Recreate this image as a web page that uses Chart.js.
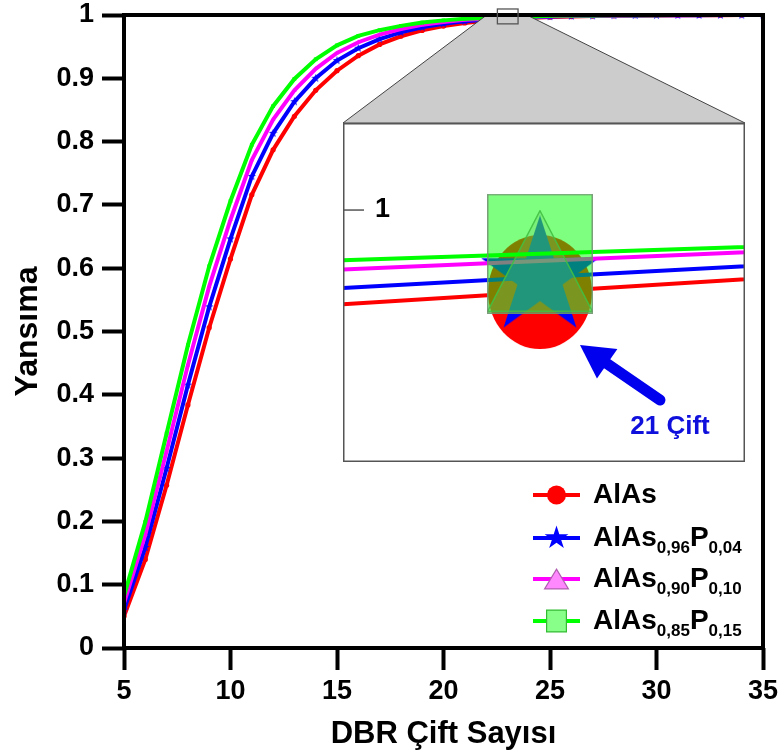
<!DOCTYPE html>
<html><head><meta charset="utf-8">
<script src="https://cdn.jsdelivr.net/npm/chart.js@4.4.1/dist/chart.umd.min.js"></script>
<style>
html,body{margin:0;padding:0;background:#fff;}
#wrap{position:relative;width:780px;height:756px;overflow:hidden;}
#main{position:absolute;left:0;top:0;}
#inset{position:absolute;left:343px;top:123px;background:#fff;}
</style></head><body>
<div id="wrap"><canvas id="main" width="780" height="756"></canvas><canvas id="inset" width="402" height="339"></canvas></div>
<script>
// ---------------- data ----------------
const pairs = [5,6,7,8,9,10,11,12,13,14,15,16,17,18,19,20,21,22,23,24,25,26,27,28,29,30,31,32,33,34,35];
const alas    = [0.0500,0.1399,0.2571,0.3840,0.5060,0.6146,0.7160,0.7870,0.8400,0.8810,0.9120,0.9358,0.9535,0.9664,0.9757,0.9825,0.9874,0.99091,0.99303,0.99516,0.99664,0.99758,0.99827,0.99875,0.99911,0.99936,0.99954,0.99967,0.99976,0.99983,0.99988];
const alasP04 = [0.0600,0.1588,0.2838,0.4153,0.5390,0.6463,0.7450,0.8130,0.8630,0.9000,0.9280,0.9475,0.9620,0.9726,0.9805,0.9861,0.9902,0.99244,0.99428,0.99612,0.99750,0.99823,0.99874,0.99911,0.99937,0.99955,0.99968,0.99977,0.99984,0.99989,0.99992];
const alasP10 = [0.0710,0.1790,0.3111,0.4469,0.5712,0.6766,0.7710,0.8350,0.8810,0.9150,0.9400,0.9570,0.9690,0.9778,0.9844,0.9891,0.9923,0.99420,0.99567,0.99714,0.99815,0.99870,0.99910,0.99936,0.99956,0.99969,0.99978,0.99985,0.99989,0.99993,0.99995];
const alasP15 = [0.0820,0.1992,0.3389,0.4783,0.6030,0.7061,0.7950,0.8560,0.8990,0.9300,0.9520,0.9670,0.9760,0.9828,0.9880,0.9915,0.9942,0.99516,0.99629,0.99742,0.99867,0.99908,0.99937,0.99956,0.99970,0.99979,0.99986,0.99990,0.99993,0.99995,0.99997];
const seriesNames = ['AlAs','AlAs_{0,96}P_{0,04}','AlAs_{0,90}P_{0,10}','AlAs_{0,85}P_{0,15}'];
const xTicks = [5,10,15,20,25,30,35];
const yTicks = [0,0.1,0.2,0.3,0.4,0.5,0.6,0.7,0.8,0.9,1];
const yTickLabels = ['0','0.1','0.2','0.3','0.4','0.5','0.6','0.7','0.8','0.9','1'];
const xTitle = 'DBR Çift Sayısı';
const yTitle = 'Yansıma';
// inset (zoom) window
const insetPair = 23;
const insetXRange = [22.51, 23.51];
const insetYRange = [0.97858, 1.0074];
const insetTickValue = 1;
const insetTickLabel = '1';
const insetNote = '21 Çift';
const zoomBoxX = [22.53, 23.5];
const zoomBoxY = [0.986, 1.0095];
const zoomFunnelX = [22.03, 23.91];

// ---------------- styles ----------------
const FONT = "'Liberation Sans', Arial, Helvetica, sans-serif";
const series = [alas, alasP04, alasP10, alasP15];
const colors = ['#ff0000', '#0000ff', '#ff00ff', '#00ff00'];

function pathShape(g, shape, cx, cy, w, h, lw) {
  const m = (lw || 0) / 2;
  g.beginPath();
  if (shape === 'circle') {
    g.ellipse(cx, cy, w / 2 - m, h / 2 - m, 0, 0, Math.PI * 2);
  } else if (shape === 'square') {
    g.rect(cx - w / 2 + m, cy - h / 2 + m, w - 2 * m, h - 2 * m);
  } else if (shape === 'triangle') {
    g.moveTo(cx, cy - h / 2 + m);
    g.lineTo(cx + w / 2 - m, cy + h / 2 - m);
    g.lineTo(cx - w / 2 + m, cy + h / 2 - m);
    g.closePath();
  } else if (shape === 'star') {
    const R = Math.min(w, h) / 2 - m, r = R * 0.382;
    for (let k = 0; k < 10; k++) {
      const a = -Math.PI / 2 + k * Math.PI / 5;
      const rr = k % 2 ? r : R;
      const px = cx + rr * Math.cos(a), py = cy + rr * Math.sin(a);
      if (k) g.lineTo(px, py); else g.moveTo(px, py);
    }
    g.closePath();
  }
}
function shapeCanvas(shape, w, h, fill, stroke, lw) {
  const c = document.createElement('canvas');
  c.width = w; c.height = h;
  const g = c.getContext('2d');
  pathShape(g, shape, w / 2, h / 2, w, h, lw);
  g.fillStyle = fill; g.fill();
  if (lw) { g.strokeStyle = stroke; g.lineWidth = lw; g.stroke(); }
  return c;
}
const mainStyles = ['circle', shapeCanvas('star', 9, 9, '#0000ff'), 'triangle', 'rect'];
const insetStyles = [
  shapeCanvas('circle', 104, 114, '#ff0000'),
  shapeCanvas('star', 124, 124, '#0000ff'),
  shapeCanvas('triangle', 106, 102, 'rgba(220,150,220,0.30)', 'rgba(130,130,130,0.9)', 1.5),
  shapeCanvas('square', 106, 120, 'rgba(0,255,0,0.5)', 'rgba(110,150,110,0.9)', 1.5)
];
const legendMarks = [
  {shape: 'circle', w: 19, h: 19, fill: '#ff0000', stroke: null, lw: 0},
  {shape: 'star', w: 25, h: 25, fill: '#0000ff', stroke: null, lw: 0},
  {shape: 'triangle', w: 25, h: 21, fill: '#ff88ff', stroke: '#b060b0', lw: 1.2},
  {shape: 'square', w: 21, h: 23, fill: '#88ff88', stroke: '#33bb33', lw: 1.2}
];

function drawRich(g, x, y, str, big, small, drop) {
  const parts = str.split(/(_\{[^}]*\})/).filter(s => s.length);
  g.textBaseline = 'middle'; g.textAlign = 'left';
  for (const p of parts) {
    if (p.startsWith('_{')) {
      const t = p.slice(2, -1);
      g.font = small; g.fillText(t, x, y + drop); x += g.measureText(t).width;
    } else {
      g.font = big; g.fillText(p, x, y); x += g.measureText(p).width;
    }
  }
}

// ---------------- main chart ----------------
const mainDecor = {
  id: 'mainDecor',
  afterDatasetsDraw(chart) {
    const g = chart.ctx, a = chart.chartArea;
    const xs = chart.scales.x, ys = chart.scales.y;
    const insetEl = document.getElementById('inset');
    const il = insetEl.offsetLeft, it = insetEl.offsetTop, ir = il + insetEl.width;
    g.save();
    g.beginPath();
    g.moveTo(il, it);
    g.lineTo(xs.getPixelForValue(zoomFunnelX[0]), ys.getPixelForValue(1));
    g.lineTo(xs.getPixelForValue(zoomFunnelX[1]), ys.getPixelForValue(1));
    g.lineTo(ir, it);
    g.closePath();
    g.fillStyle = '#cccccc'; g.fill();
    g.strokeStyle = '#444'; g.lineWidth = 1; g.stroke();
    g.strokeStyle = '#000'; g.lineWidth = 4;
    g.strokeRect(a.left, a.top, a.right - a.left, a.bottom - a.top);
    const bx0 = xs.getPixelForValue(zoomBoxX[0]), bx1 = xs.getPixelForValue(zoomBoxX[1]);
    const by0 = ys.getPixelForValue(zoomBoxY[1]), by1 = ys.getPixelForValue(zoomBoxY[0]);
    g.strokeStyle = '#555'; g.lineWidth = 1.3;
    g.strokeRect(bx0, by0, bx1 - bx0, by1 - by0);
    g.restore();
  },
  afterDraw(chart) {
    const g = chart.ctx, a = chart.chartArea;
    const rowsFromBottom = [153, 110, 69, 27];
    g.save();
    chart.data.datasets.forEach((ds, i) => {
      const y = a.bottom - rowsFromBottom[i];
      const x0 = a.right - 230, x1 = a.right - 183, xm = (x0 + x1) / 2;
      g.strokeStyle = colors[i]; g.lineWidth = 4;
      g.beginPath(); g.moveTo(x0, y); g.lineTo(x1, y); g.stroke();
      const m = legendMarks[i];
      pathShape(g, m.shape, xm, y, m.w, m.h, m.lw);
      g.fillStyle = m.fill; g.fill();
      if (m.lw) { g.strokeStyle = m.stroke; g.lineWidth = m.lw; g.stroke(); }
      g.fillStyle = '#000';
      drawRich(g, a.right - 170, y, ds.label, 'bold 28px ' + FONT, 'bold 17px ' + FONT, 10);
    });
    g.restore();
  }
};

new Chart(document.getElementById('main'), {
  type: 'line',
  data: {
    datasets: series.map((s, i) => ({
      label: seriesNames[i],
      data: pairs.map((p, j) => ({x: p, y: s[j]})),
      borderColor: colors[i],
      backgroundColor: colors[i],
      borderWidth: 4,
      pointRadius: 2.6,
      pointStyle: mainStyles[i],
      pointBorderWidth: 0,
      pointBackgroundColor: colors[i],
      tension: 0,
      order: 4 - i
    }))
  },
  options: {
    responsive: false, animation: false, events: [],
    layout: {padding: {top: 15, right: 17, left: 0, bottom: 0}},
    plugins: {legend: {display: false}, tooltip: {enabled: false}},
    scales: {
      x: {
        type: 'linear', min: 5, max: 35,
        afterBuildTicks: s => { s.ticks = xTicks.map(v => ({value: v})); },
        afterFit: s => { s.height = 108; s.paddingLeft = 0; s.paddingRight = 0; },
        ticks: {font: {family: FONT, size: 27, weight: 'bold'}, color: '#000', padding: 5, maxRotation: 0, autoSkip: false},
        grid: {display: true, drawOnChartArea: false, drawTicks: true, tickLength: 22, tickWidth: 4, tickColor: '#000', lineWidth: 1},
        border: {display: false},
        title: {display: true, text: xTitle, color: '#000', font: {family: FONT, size: 31, weight: 'bold'}, padding: {top: 0, bottom: 3}}
      },
      y: {
        type: 'linear', min: 0, max: 1,
        afterBuildTicks: s => { s.ticks = yTicks.map(v => ({value: v})); },
        afterFit: s => { s.width = 124; s.paddingTop = 0; s.paddingBottom = 0; },
        ticks: {font: {family: FONT, size: 27, weight: 'bold'}, color: '#000', padding: 8, autoSkip: false,
                callback: (v, i) => yTickLabels[i]},
        grid: {display: true, drawOnChartArea: false, drawTicks: true, tickLength: 22, tickWidth: 4, tickColor: '#000', lineWidth: 1},
        border: {display: false},
        title: {display: true, text: yTitle, color: '#000', font: {family: FONT, size: 32, weight: 'bold'}, padding: {top: 9, bottom: 0}}
      }
    }
  },
  plugins: [mainDecor]
});

// ---------------- inset chart ----------------
const insetDecor = {
  id: 'insetDecor',
  afterDatasetsDraw(chart) {
    const g = chart.ctx, ys = chart.scales.y;
    const idx = pairs.indexOf(insetPair);
    const p = chart.getDatasetMeta(0).data[idx];
    g.save();
    const ty = ys.getPixelForValue(insetTickValue);
    g.strokeStyle = '#555'; g.lineWidth = 1.5;
    g.beginPath(); g.moveTo(0, ty); g.lineTo(21, ty); g.stroke();
    g.fillStyle = '#000'; g.font = 'bold 27px ' + FONT; g.textBaseline = 'middle'; g.textAlign = 'left';
    g.fillText(insetTickLabel, 32, ty);
    const tip = {x: p.x + 40, y: p.y + 53}, tail = {x: p.x + 120, y: p.y + 108};
    const dx = tip.x - tail.x, dy = tip.y - tail.y, L = Math.hypot(dx, dy);
    const ux = dx / L, uy = dy / L, hl = 33, hw = 18;
    const bx = tip.x - ux * hl, by = tip.y - uy * hl;
    g.strokeStyle = '#0000ee'; g.fillStyle = '#0000ee'; g.lineWidth = 11; g.lineCap = 'round';
    g.beginPath(); g.moveTo(tail.x, tail.y); g.lineTo(bx + ux * 4, by + uy * 4); g.stroke();
    g.beginPath(); g.moveTo(tip.x, tip.y); g.lineTo(bx - uy * hw, by + ux * hw); g.lineTo(bx + uy * hw, by - ux * hw); g.closePath(); g.fill();
    g.fillStyle = '#1010dd'; g.font = 'bold 26px ' + FONT; g.textAlign = 'center';
    g.fillText(insetNote, p.x + 130, p.y + 135);
    g.strokeStyle = '#555'; g.lineWidth = 1.5;
    g.strokeRect(0.75, 0.75, chart.width - 1.5, chart.height - 1.5);
    g.restore();
  }
};

new Chart(document.getElementById('inset'), {
  type: 'line',
  data: {
    datasets: series.map((s, i) => ({
      label: seriesNames[i],
      data: pairs.map((p, j) => ({x: p, y: s[j]})),
      borderColor: colors[i],
      backgroundColor: colors[i],
      borderWidth: 4,
      pointStyle: insetStyles[i],
      pointRadius: ctx => (pairs[ctx.dataIndex] === insetPair ? 50 : 0),
      pointBorderWidth: 0,
      tension: 0,
      order: 4 - i
    }))
  },
  options: {
    responsive: false, animation: false, events: [],
    layout: {padding: 0},
    plugins: {legend: {display: false}, tooltip: {enabled: false}},
    scales: {
      x: {type: 'linear', display: false, min: insetXRange[0], max: insetXRange[1]},
      y: {type: 'linear', display: false, min: insetYRange[0], max: insetYRange[1]}
    }
  },
  plugins: [insetDecor]
});
</script>
</body></html>
